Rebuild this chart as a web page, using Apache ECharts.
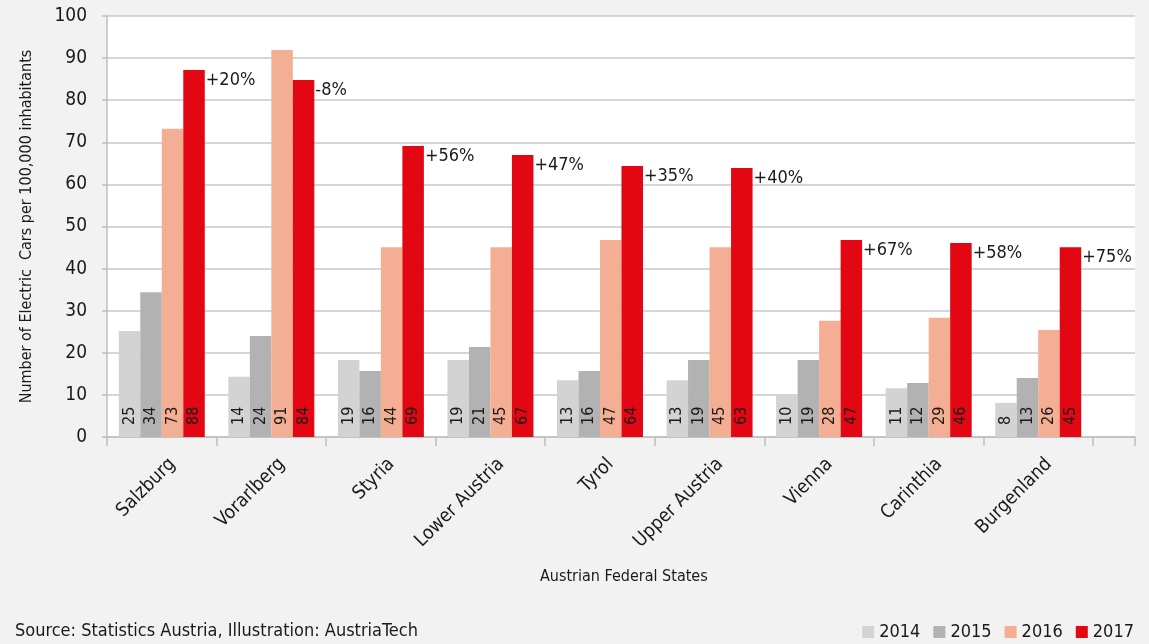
<!DOCTYPE html>
<html><head><meta charset="utf-8">
<script src="https://cdn.jsdelivr.net/npm/echarts@6/dist/echarts.min.js"></script>
<style>html,body{margin:0;padding:0;background:#f2f2f2;}#c{width:1149px;height:644px;}</style>
</head><body><div id="c"></div>
<script>
const categories = ['Salzburg','Vorarlberg','Styria','Lower Austria','Tyrol','Upper Austria','Vienna','Carinthia','Burgenland'];
const years = ['2014','2015','2016','2017'];
// bar heights
const v2014 = [25.2, 14.3, 18.3, 18.3, 13.5, 13.5, 10.2, 11.6, 8.1];
const v2015 = [34.4, 24.0, 15.7, 21.4, 15.7, 18.3, 18.3, 12.8, 14.0];
const v2016 = [73.2, 91.9, 45.1, 45.1, 46.8, 45.1, 27.6, 28.3, 25.4];
const v2017 = [87.2, 84.8, 69.1, 67.0, 64.4, 63.9, 46.8, 46.1, 45.1];
// printed value labels
const l2014 = [25, 14, 19, 19, 13, 13, 10, 11, 8];
const l2015 = [34, 24, 16, 21, 16, 19, 19, 12, 13];
const l2016 = [73, 91, 44, 45, 47, 45, 28, 29, 26];
const l2017 = [88, 84, 69, 67, 64, 63, 47, 46, 45];
const change = ['+20%','-8%','+56%','+47%','+35%','+40%','+67%','+58%','+75%'];
const yTicks = [0,10,20,30,40,50,60,70,80,90,100];

const FONT = "'DejaVu Sans Condensed','Liberation Sans Narrow',sans-serif";
const TXT = '#1a1a1a';
const AX = '#bfbfbf';
const colors = ['#d3d3d3','#b2b2b2','#f4ae94','#e30613'];
const vals = [v2014, v2015, v2016, v2017];
const labs = [l2014, l2015, l2016, l2017];

const chart = echarts.init(document.getElementById('c'));
const series = years.map((y, i) => ({
  name: y, type: 'bar', stack: 's' + i, xAxisIndex: 1, yAxisIndex: 1,
  data: vals[i],
  itemStyle: {color: colors[i]},
  barCategoryGap: '21.5%', barGap: '0%',
  label: {
    show: true, position: 'insideBottom', rotate: 90, distance: 12,
    align: 'left', verticalAlign: 'middle',
    fontFamily: FONT, fontSize: 16, color: TXT,
    formatter: p => String(labs[i][p.dataIndex])
  }
}));
series.push({
  name: 'change', type: 'bar', stack: 's3', xAxisIndex: 1, yAxisIndex: 1,
  data: categories.map(() => 0),
  itemStyle: {color: 'rgba(0,0,0,0)'},
  label: {
    show: true, position: ['100%', 0], distance: 0,
    align: 'left', verticalAlign: 'top', offset: [1, 1],
    fontFamily: FONT, fontSize: 18, color: TXT,
    formatter: p => change[p.dataIndex]
  }
});

chart.setOption({
  backgroundColor: '#f2f2f2',
  animation: false,
  textStyle: {fontFamily: FONT},
  grid: [
    {left: 107, right: 14, top: 16, bottom: 207, show: true, backgroundColor: '#ffffff', borderWidth: 0},
    {left: 107, right: 56, top: 16, bottom: 207}
  ],
  legend: {
    data: years, right: 15, bottom: 3, padding: 0, icon: 'rect', itemWidth: 12, itemHeight: 12, itemGap: 13,
    textStyle: {fontFamily: FONT, fontSize: 18, color: TXT}
  },
  xAxis: [
    {
      gridIndex: 0, type: 'category', data: [''], boundaryGap: true,
      axisLine: {lineStyle: {color: AX, width: 1.5}},
      axisTick: {show: true, length: 9, lineStyle: {color: AX, width: 1.5}},
      axisLabel: {show: false}
    },
    {
      gridIndex: 1, type: 'category', data: categories, boundaryGap: true,
      axisLine: {show: false},
      axisTick: {show: true, length: 9, lineStyle: {color: AX, width: 1.5}},
      axisLabel: {rotate: 45, fontFamily: FONT, fontSize: 19, color: TXT, margin: 35, interval: 0,
        padding: [0, -15, 0, 0]}
    }
  ],
  yAxis: [
    {
      gridIndex: 0, type: 'value', min: 0, max: 100, interval: 10,
      name: 'Number of Electric  Cars per 100,000 inhabitants',
      nameLocation: 'middle', nameGap: 72, nameRotate: 90,
      nameTextStyle: {fontFamily: FONT, fontSize: 16, color: TXT},
      axisLine: {show: true, lineStyle: {color: AX, width: 1.5}},
      axisTick: {show: true, length: 5, lineStyle: {color: AX, width: 1.5}},
      splitLine: {lineStyle: {color: '#c8c8c8', width: 1.5}},
      axisLabel: {fontFamily: FONT, fontSize: 19, color: TXT, margin: 20,
        formatter: v => yTicks.includes(v) ? String(v) : ''}
    },
    {
      gridIndex: 1, type: 'value', min: 0, max: 100, interval: 10,
      axisLine: {show: false}, axisTick: {show: false}, axisLabel: {show: false}, splitLine: {show: false}
    }
  ],
  graphic: [
    {type: 'text', left: 540, top: 569, style: {text: 'Austrian Federal States', font: '16px ' + FONT, fill: TXT}},
    {type: 'text', left: 15, top: 622, style: {text: 'Source: Statistics Austria, Illustration: AustriaTech', font: '18px ' + FONT, fill: TXT}}
  ],
  series: series
});
</script></body></html>
